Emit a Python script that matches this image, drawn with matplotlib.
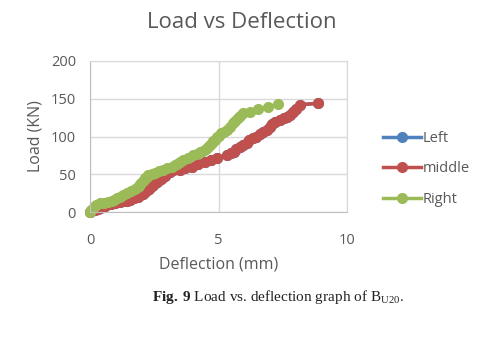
import matplotlib.pyplot as plt

plt.rcParams['mathtext.fontset'] = 'custom'
plt.rcParams['mathtext.rm'] = 'Liberation Serif'
plt.rcParams['mathtext.bf'] = 'Liberation Serif:bold'

# Data
mid_x = [0, 0.1, 0.2, 0.3, 0.39, 0.5, 0.6, 0.8, 0.97, 1.15, 1.3, 1.45, 1.56, 1.7, 1.87, 1.95,
         2.05, 2.15, 2.22, 2.3, 2.4, 2.47, 2.53, 2.6, 2.7, 2.77, 2.84, 2.92, 3.0, 3.1, 3.23,
         3.5, 3.7, 3.97, 4.2, 4.47, 4.7, 4.94, 5.33, 5.5, 5.6, 5.7, 5.84, 5.95, 6.1, 6.2,
         6.34, 6.45, 6.6, 6.75, 6.89, 7.0, 7.1, 7.2, 7.4, 7.55, 7.67, 7.8, 7.9, 8.0, 8.17, 8.87]
mid_y = [0, 2, 3, 4, 5, 6, 8, 10, 12, 13, 14, 15, 16, 18, 20, 22,
         24, 27, 29, 31, 34, 36, 38, 40, 42, 44, 46, 48, 51, 53, 56,
         56, 58, 60, 63, 66, 69, 72, 75, 78, 80, 83, 86, 89, 92, 95,
         98, 100, 103, 106, 109, 112, 116, 119, 122, 124, 126, 129, 133, 137, 142, 144]

right_x = [0, 0.05, 0.15, 0.25, 0.39, 0.55, 0.70, 0.85, 0.95, 1.05, 1.17, 1.3, 1.44, 1.6, 1.75,
           1.85, 1.9, 1.96, 2.02, 2.1, 2.15, 2.2, 2.26, 2.4, 2.53, 2.7, 2.84, 3.0, 3.19,
           3.3, 3.4, 3.5, 3.62, 3.8, 4.0, 4.15, 4.28, 4.4, 4.5, 4.6, 4.67, 4.75, 4.8, 4.87,
           4.94, 5.0, 5.1, 5.2, 5.33, 5.45, 5.56, 5.65, 5.75, 5.85, 5.95, 6.23, 6.54,
           6.93, 7.3]
right_y = [0, 3, 6, 9, 12, 12, 13, 14, 16, 18, 20, 22, 25, 28, 30,
           33, 35, 37, 40, 43, 45, 47, 49, 50, 52, 54, 56, 58, 60,
           62, 64, 66, 69, 72, 75, 77, 79, 81, 84, 86, 89, 91, 94, 96,
           99, 101, 104, 106, 109, 113, 118, 121, 124, 127, 131, 132, 136,
           139, 143]

left_x = mid_x
left_y = mid_y

fig = plt.figure(figsize=(4.82, 3.39), dpi=100)
ax = fig.add_axes([90 / 482, 127 / 339, 257 / 482, 151 / 339])

ax.plot(left_x, left_y, color='#4f81bd', marker='o', markersize=7, linewidth=2.5, label='Left', clip_on=False)
ax.plot(mid_x, mid_y, color='#c0504d', marker='o', markersize=7, linewidth=2.5, label='middle', clip_on=False)
ax.plot(right_x, right_y, color='#9bbb59', marker='o', markersize=7, linewidth=2.5, label='Right', clip_on=False)

ax.set_xlim(0, 10)
ax.set_ylim(0, 200)
ax.set_xticks([0, 5, 10])
ax.set_yticks([0, 50, 100, 150, 200])
ax.grid(True, color='#d9d9d9', linewidth=1)
ax.set_axisbelow(True)
for s in ax.spines.values():
    s.set_color('#d9d9d9')
ax.spines['left'].set_color('#bfbfbf')
ax.spines['bottom'].set_color('#bfbfbf')
ax.tick_params(length=0, labelsize=10.5, labelcolor='#595959')
ax.tick_params(axis='x', pad=15)
ax.tick_params(axis='y', pad=10)
for lab in ax.get_xticklabels() + ax.get_yticklabels():
    lab.set_family('Open Sans')

ax.set_xlabel('Deflection (mm)', fontsize=11.5, color='#595959', family='Open Sans', labelpad=6)
ax.set_ylabel('Load (KN)', fontsize=11.5, color='#595959', family='Open Sans', labelpad=5)

fig.text(242 / 482, 1 - 22 / 339, 'Load vs Deflection', ha='center', va='center',
         fontsize=16, color='#595959', family='Open Sans')

leg = fig.legend(loc='center left', bbox_to_anchor=(370 / 482, 1 - 169 / 339), frameon=False,
                 fontsize=10.5, labelspacing=1.05, handlelength=2.6, handletextpad=0.1)
for t in leg.get_texts():
    t.set_color('#595959')
    t.set_family('Open Sans')

fig.text(278 / 482, 1 - 297 / 339, r'$\mathbf{Fig.}$$\,$$\mathbf{9}$ Load vs. deflection graph of B$_{\mathrm{U20}}$.',
         ha='center', va='center', fontsize=11, color='#222222', family='Liberation Serif')

fig.savefig('out.png', dpi=100)
